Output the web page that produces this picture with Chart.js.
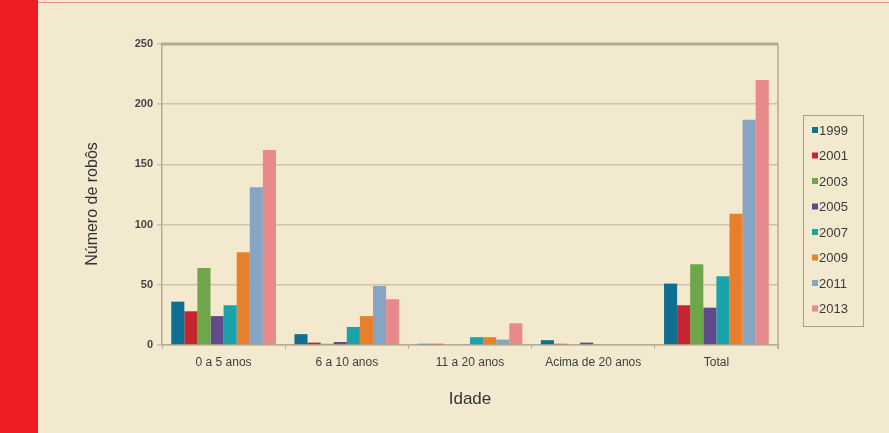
<!DOCTYPE html>
<html>
<head>
<meta charset="utf-8">
<script src="https://cdn.jsdelivr.net/npm/chart.js@4.4.1/dist/chart.umd.min.js"></script>
<style>
  html, body { margin: 0; padding: 0; }
  body { width: 889px; height: 433px; background: #f2e9cf; position: relative; overflow: hidden; }
  #band { position: absolute; left: 0; top: 0; width: 38px; height: 433px; background: #ee1c25; }
  #topline { position: absolute; left: 38px; top: 2px; width: 851px; height: 1px; background: #f08a8a; }
  #wrap { position: absolute; left: 0; top: 0; width: 889px; height: 433px; }
</style>
</head>
<body>
<div id="band"></div>
<div id="topline"></div>
<div id="wrap"><canvas id="c" width="889" height="433"></canvas></div>
<script>
// Robôs por faixa de idade, por ano de levantamento
const categories = ["0 a 5 anos", "6 a 10 anos", "11 a 20 anos", "Acima de 20 anos", "Total"];
const years = ["1999", "2001", "2003", "2005", "2007", "2009", "2011", "2013"];
const v1999 = [36, 9, 1, 4, 51];
const v2001 = [28, 2, 1, 1, 33];
const v2003 = [64, 1, 0, 0, 67];
const v2005 = [24, 2.5, 0, 2, 31];
const v2007 = [33, 15, 6.5, 0, 57];
const v2009 = [77, 24, 6.5, 0, 109];
const v2011 = [131, 49, 4.5, 0, 187];
const v2013 = [162, 38, 18, 0, 220];
const yTicks = [0, 50, 100, 150, 200, 250];
const yTitle = "Número de robôs";

const seriesValues = [v1999, v2001, v2003, v2005, v2007, v2009, v2011, v2013];
const colors = ["#0f6f92", "#c3262f", "#6ea64a", "#5f4a8c", "#1aa3ab", "#e8802b", "#87a4c2", "#e8898b"];

const datasets = years.map((y, i) => ({
  label: y,
  data: seriesValues[i],
  backgroundColor: colors[i],
  borderWidth: 0,
  categoryPercentage: 0.85,
  barPercentage: 1.0
}));

// legend drawn in a framed box to the right of the plot
const boxLegend = {
  id: "boxLegend",
  afterDraw(chart) {
    const ctx = chart.ctx;
    const x0 = 803, y0 = 115, w = 60, h = 211;
    ctx.save();
    ctx.strokeStyle = "#a8a28c";
    ctx.lineWidth = 1;
    ctx.strokeRect(x0 + 0.5, y0 + 0.5, w, h);
    ctx.font = "13px 'Liberation Sans', Arial, sans-serif";
    ctx.textBaseline = "middle";
    chart.data.datasets.forEach((ds, i) => {
      const cy = y0 + 15 + i * 25.5;
      ctx.fillStyle = ds.backgroundColor;
      ctx.fillRect(x0 + 9, cy - 3, 6, 6);
      ctx.fillStyle = "#3a3a3a";
      ctx.fillText(ds.label, x0 + 16, cy + 1);
    });
    ctx.restore();
  }
};

// frame lines on the top and right of the plot area, plus the vertical axis title
const plotFrame = {
  id: "plotFrame",
  afterDatasetsDraw(chart) {
    const { ctx, chartArea: a } = chart;
    ctx.save();
    ctx.strokeStyle = "#b3ab93";
    ctx.lineWidth = 3;
    ctx.beginPath();
    ctx.moveTo(a.left, a.top);
    ctx.lineTo(a.right, a.top);
    ctx.stroke();
    ctx.lineWidth = 1.5;
    ctx.beginPath();
    ctx.moveTo(a.right, a.top);
    ctx.lineTo(a.right, a.bottom + 4);
    ctx.stroke();
    ctx.restore();

    ctx.save();
    ctx.translate(93, 204);
    ctx.rotate(-Math.PI / 2);
    ctx.font = "16px 'Liberation Sans', Arial, sans-serif";
    ctx.fillStyle = "#333";
    ctx.textAlign = "center";
    ctx.textBaseline = "middle";
    ctx.fillText(yTitle, 0, 0);
    ctx.restore();
  }
};

new Chart(document.getElementById("c"), {
  type: "bar",
  data: { labels: categories, datasets },
  options: {
    responsive: false,
    animation: false,
    layout: { padding: { left: 86, right: 111, top: 44, bottom: 21 } },
    plugins: { legend: { display: false }, tooltip: { enabled: false } },
    scales: {
      x: {
        grid: { display: true, drawOnChartArea: false, offset: true, color: "#b3ab93", tickLength: 4 },
        border: { color: "#b3ab93", width: 1.5 },
        ticks: { color: "#3f3f3f", font: { family: "'Liberation Sans', Arial, sans-serif", size: 12 }, padding: 6 },
        title: { display: true, text: "Idade", color: "#333", font: { family: "'Liberation Sans', Arial, sans-serif", size: 17 }, padding: { top: 4, bottom: 2 } },
        afterFit(scale) { scale.height = 67; }
      },
      y: {
        min: 0, max: 250,
        afterBuildTicks(scale) { scale.ticks = yTicks.map(v => ({ value: v })); },
        grid: { color: "#cdc4a6", lineWidth: 1.5, tickLength: 5 },
        border: { color: "#b3ab93", width: 1.5 },
        ticks: { color: "#444", font: { family: "'Liberation Sans', Arial, sans-serif", size: 11, weight: "bold" }, padding: 4 },
        afterFit(scale) { scale.width = 76; }
      }
    }
  },
  plugins: [boxLegend, plotFrame]
});
</script>
</body>
</html>
